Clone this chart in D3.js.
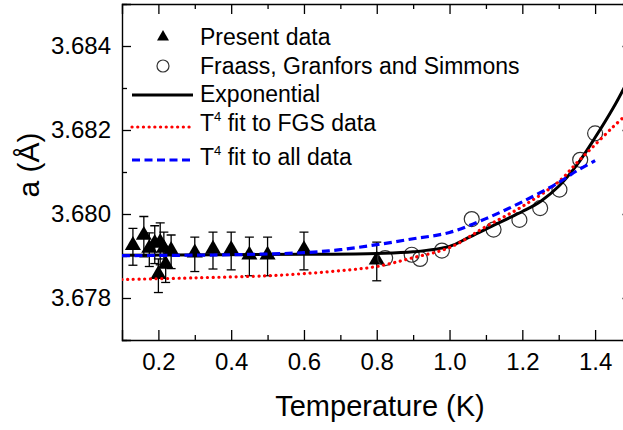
<!DOCTYPE html>
<html>
<head>
<meta charset="utf-8">
<script src="https://cdn.jsdelivr.net/npm/d3@7"></script>
<style>
  html, body { margin: 0; padding: 0; background: #fff; }
  svg { display: block; }
  text { font-family: "Liberation Sans", Arial, sans-serif; fill: #000; }
</style>
</head>
<body>
<svg id="chart" width="623" height="430"></svg>
<script>
// ---------- data ----------
const presentT   = [0.13, 0.16, 0.175, 0.19, 0.2, 0.205, 0.215, 0.22, 0.235, 0.3, 0.35, 0.4, 0.45, 0.5, 0.6, 0.8];
const presentA   = [3.67922, 3.67946, 3.67915, 3.67927, 3.67853, 3.67929, 3.67915, 3.67877, 3.67910, 3.67904, 3.67913, 3.67912, 3.67899, 3.67899, 3.67912, 3.67887];
const presentErr = [0.00044, 0.00048, 0.00040, 0.00045, 0.00040, 0.00050, 0.00042, 0.00040, 0.00040, 0.00041, 0.00044, 0.00045, 0.00046, 0.00046, 0.00045, 0.00046];

const fgsT = [0.823, 0.896, 0.919, 0.979, 1.061, 1.121, 1.192, 1.249, 1.302, 1.359, 1.4];
const fgsA = [3.67895, 3.67903, 3.67893, 3.67913, 3.67988, 3.67963, 3.67986, 3.68014, 3.68058, 3.68129, 3.68192];

const expT = [0.1, 0.6, 0.8, 0.9, 1.0, 1.05, 1.1, 1.15, 1.2, 1.25, 1.3, 1.35, 1.4, 1.45, 1.48];
const expA = [3.67902, 3.67904, 3.67906, 3.67910, 3.67923, 3.67943, 3.67964, 3.67985, 3.68006, 3.68030, 3.68066, 3.68117, 3.68182, 3.68253, 3.68301];

const fgsFitT = [0.1, 0.3, 0.5, 0.6, 0.7, 0.8, 0.9, 1.0, 1.1, 1.2, 1.3, 1.35, 1.4, 1.45, 1.48];
const fgsFitA = [3.67844, 3.67848, 3.67853, 3.67858, 3.67865, 3.67875, 3.67896, 3.67920, 3.67970, 3.68018, 3.68077, 3.68122, 3.68165, 3.68208, 3.68232];

const allFitT = [0.1, 0.4, 0.6, 0.7, 0.8, 0.9, 1.0, 1.1, 1.2, 1.3, 1.35, 1.4];
const allFitA = [3.67901, 3.67903, 3.67908, 3.67915, 3.67927, 3.67941, 3.67956, 3.67989, 3.68029, 3.68075, 3.68103, 3.68127];

const xMajor = [0.2, 0.4, 0.6, 0.8, 1.0, 1.2, 1.4];
const xMinor = [0.3, 0.5, 0.7, 0.9, 1.1, 1.3];
const yMajor = [3.678, 3.680, 3.682, 3.684];
const yMinor = [3.677, 3.679, 3.681, 3.683, 3.685];

const legendLabels = ["Present data", "Fraass, Granfors and Simmons", "Exponential", "fit to FGS data", "fit to all data"];

// ---------- layout ----------
const svg = d3.select("#chart");
const L = 122, R = 631.5, T = 4, B = 340;
const x = d3.scaleLinear().domain([0.1, 1.5]).range([L, R]);
const y = d3.scaleLinear().domain([3.677, 3.685]).range([B, T]);

const FONT_TICK = 24;

const axStroke = g => { g.selectAll("path.domain").attr("stroke", "#000").attr("stroke-width", 1.4);
                        g.selectAll(".tick line").attr("stroke", "#000").attr("stroke-width", 1.3); };

svg.append("g").attr("transform", `translate(0,${B})`)
  .call(d3.axisBottom(x).tickValues(xMajor).tickSize(-10).tickPadding(13).tickFormat(d3.format(".1f")))
  .call(axStroke)
  .call(g => g.selectAll("text").attr("font-size", FONT_TICK).attr("font-family", "Liberation Sans, Arial, sans-serif").attr("fill", "#000"));
svg.append("g").attr("transform", `translate(0,${B})`)
  .call(d3.axisBottom(x).tickValues(xMinor).tickSize(-5).tickFormat(""))
  .call(axStroke).call(g => g.select("path.domain").remove());

svg.append("g").attr("transform", `translate(0,${T})`)
  .call(d3.axisTop(x).tickValues(xMajor).tickSize(-10).tickFormat(""))
  .call(axStroke);
svg.append("g").attr("transform", `translate(0,${T})`)
  .call(d3.axisTop(x).tickValues(xMinor).tickSize(-5).tickFormat(""))
  .call(axStroke).call(g => g.select("path.domain").remove());

svg.append("g").attr("transform", `translate(${L},0)`)
  .call(d3.axisLeft(y).tickValues(yMajor).tickSize(-9).tickPadding(11).tickFormat(d3.format(".3f")))
  .call(axStroke)
  .call(g => g.selectAll("text").attr("font-size", FONT_TICK).attr("font-family", "Liberation Sans, Arial, sans-serif").attr("fill", "#000"));
svg.append("g").attr("transform", `translate(${L},0)`)
  .call(d3.axisLeft(y).tickValues(yMinor).tickSize(-5).tickFormat(""))
  .call(axStroke).call(g => g.select("path.domain").remove());

svg.append("g").attr("transform", `translate(${R},0)`)
  .call(d3.axisRight(y).tickValues(yMajor).tickSize(-9).tickFormat(""))
  .call(axStroke);

svg.append("text").attr("x", 380).attr("y", 416).attr("text-anchor", "middle")
  .attr("font-size", 29).text("Temperature (K)");
svg.append("text").attr("transform", "translate(39,165) rotate(-90)").attr("text-anchor", "middle")
  .attr("font-size", 30).text("a (Å)");

// ---------- plot ----------
svg.append("clipPath").attr("id", "clip").append("rect")
  .attr("x", L).attr("y", T).attr("width", R - L).attr("height", B - T);
const plot = svg.append("g").attr("clip-path", "url(#clip)");

const present = presentT.map((t, i) => ({t, a: presentA[i], e: presentErr[i]}));
const eb = plot.append("g").attr("stroke", "#000").attr("stroke-width", 1.3);
present.forEach(d => {
  const cx = x(d.t), y1 = y(d.a + d.e), y2 = y(d.a - d.e);
  eb.append("line").attr("x1", cx).attr("x2", cx).attr("y1", y1).attr("y2", y2);
  eb.append("line").attr("x1", cx - 4.5).attr("x2", cx + 4.5).attr("y1", y1).attr("y2", y1);
  eb.append("line").attr("x1", cx - 4.5).attr("x2", cx + 4.5).attr("y1", y2).attr("y2", y2);
});
const tri = d3.symbol(d3.symbolTriangle, 112);
plot.append("g").selectAll("path").data(present).join("path")
  .attr("d", tri).attr("fill", "#000")
  .attr("transform", d => `translate(${x(d.t)},${y(d.a) - 1.5})`);

const fgs = fgsT.map((t, i) => ({t, a: fgsA[i]}));
plot.append("g").selectAll("circle").data(fgs).join("circle")
  .attr("cx", d => x(d.t)).attr("cy", d => y(d.a)).attr("r", 7.5)
  .attr("fill", "none").attr("stroke", "#333").attr("stroke-width", 1.2);

const line = d3.line().x(d => x(d[0])).y(d => y(d[1])).curve(d3.curveCatmullRom);
plot.append("path").datum(expT.map((t, i) => [t, expA[i]])).attr("d", line)
  .attr("fill", "none").attr("stroke", "#000").attr("stroke-width", 3);
plot.append("path").datum(fgsFitT.map((t, i) => [t, fgsFitA[i]])).attr("d", line)
  .attr("fill", "none").attr("stroke", "#ff0000").attr("stroke-width", 3.2)
  .attr("stroke-linecap", "round").attr("stroke-dasharray", "0.1 5.6");
plot.append("path").datum(allFitT.map((t, i) => [t, allFitA[i]])).attr("d", line)
  .attr("fill", "none").attr("stroke", "#0000ff").attr("stroke-width", 3.2)
  .attr("stroke-dasharray", "8 4.5");

// ---------- legend ----------
const lg = svg.append("g");
const lx1 = 132, lx2 = 193, sx = 163, tx = 200;
const rowsY = [36, 66, 95, 127, 160];
const baseY = [45, 74, 102, 131, 165];
const triLeg = d3.symbol(d3.symbolTriangle, 62);
lg.append("path").attr("d", triLeg).attr("fill", "#000").attr("transform", `translate(${sx},${rowsY[0] + 1})`);
lg.append("circle").attr("cx", sx).attr("cy", rowsY[1]).attr("r", 6).attr("fill", "none").attr("stroke", "#333").attr("stroke-width", 1.2);
lg.append("line").attr("x1", lx1).attr("x2", lx2).attr("y1", rowsY[2]).attr("y2", rowsY[2]).attr("stroke", "#000").attr("stroke-width", 3);
lg.append("line").attr("x1", lx1).attr("x2", lx2).attr("y1", rowsY[3]).attr("y2", rowsY[3]).attr("stroke", "#ff0000").attr("stroke-width", 3.2)
  .attr("stroke-linecap", "round").attr("stroke-dasharray", "0.1 5.6");
lg.append("line").attr("x1", lx1).attr("x2", lx2).attr("y1", rowsY[4]).attr("y2", rowsY[4]).attr("stroke", "#0000ff").attr("stroke-width", 3.2)
  .attr("stroke-dasharray", "8 4.5");
legendLabels.forEach((lab, i) => {
  const t = lg.append("text").attr("x", tx).attr("y", baseY[i]).attr("font-size", 23);
  if (i >= 3) {
    t.append("tspan").text("T");
    t.append("tspan").attr("font-size", 13).attr("dy", -10).text("4");
    t.append("tspan").attr("dy", 10).text(" " + lab);
  } else {
    t.text(lab);
  }
});
</script>
</body>
</html>
